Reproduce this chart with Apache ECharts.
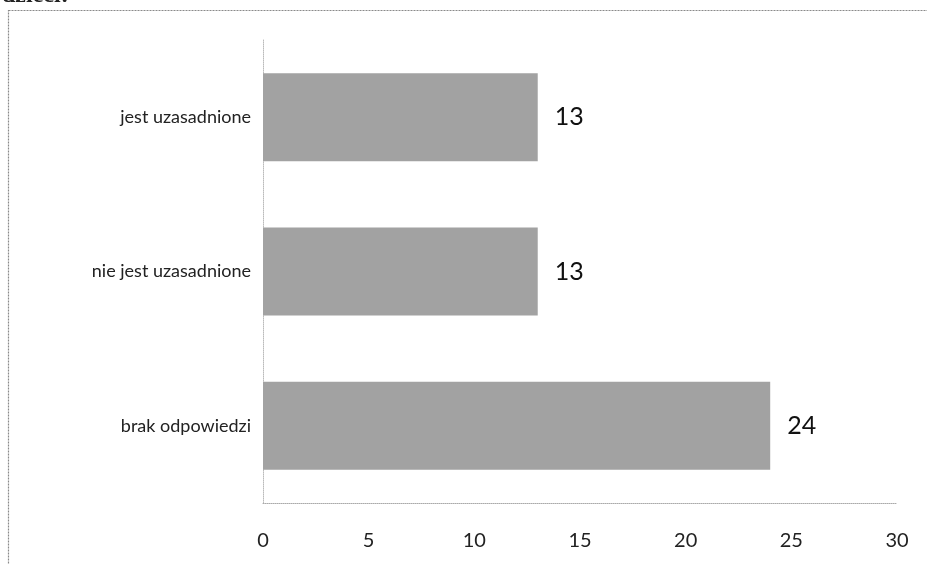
<!DOCTYPE html>
<html><head><meta charset="utf-8">
<script src="https://cdn.jsdelivr.net/npm/echarts@6/dist/echarts.min.js"></script>
<style>html,body{margin:0;padding:0;background:#fff}#c{width:927px;height:564px}</style>
</head><body><div id="c"></div>
<script>
const categories = ['brak odpowiedzi', 'nie jest uzasadnione', 'jest uzasadnione'];
const values = [24, 13, 13];
const xTicks = [0, 5, 10, 15, 20, 25, 30];

const chart = echarts.init(document.getElementById('c'));
chart.setOption({
  backgroundColor: '#fff',
  animation: false,
  graphic: [
    { type: 'rect', shape: { x: 8.5, y: 10.5, width: 960, height: 620 },
      style: { fill: 'none', stroke: '#8a8a8a', lineWidth: 1.2, lineDash: [2, 1] } },
    { type: 'text', left: 2, top: -16,
      style: { text: 'dzieci:', font: 'bold 24px "Liberation Serif"', fill: '#222' } }
  ],
  grid: { left: 263, right: 30, top: 40, bottom: 61, containLabel: false },
  xAxis: {
    type: 'value', min: xTicks[0], max: xTicks[xTicks.length - 1], interval: 5,
    axisLine: { show: true, lineStyle: { color: '#aaa', type: 'dotted', width: 1 } },
    axisTick: { show: false }, splitLine: { show: false },
    axisLabel: { color: '#222', fontSize: 20, fontFamily: 'Lato', margin: 28 }
  },
  yAxis: {
    type: 'category', data: categories,
    axisLine: { show: true, lineStyle: { color: '#bbb', type: 'dotted', width: 1 } },
    axisTick: { show: false },
    axisLabel: { color: '#222', fontSize: 18, fontFamily: 'Lato', margin: 12 }
  },
  series: [{
    type: 'bar', data: values, barCategoryGap: '43%',
    itemStyle: { color: '#a2a2a2' },
    label: { show: true, position: 'right', distance: 17, color: '#111', fontSize: 25, fontFamily: 'Lato' }
  }]
});
</script></body></html>
